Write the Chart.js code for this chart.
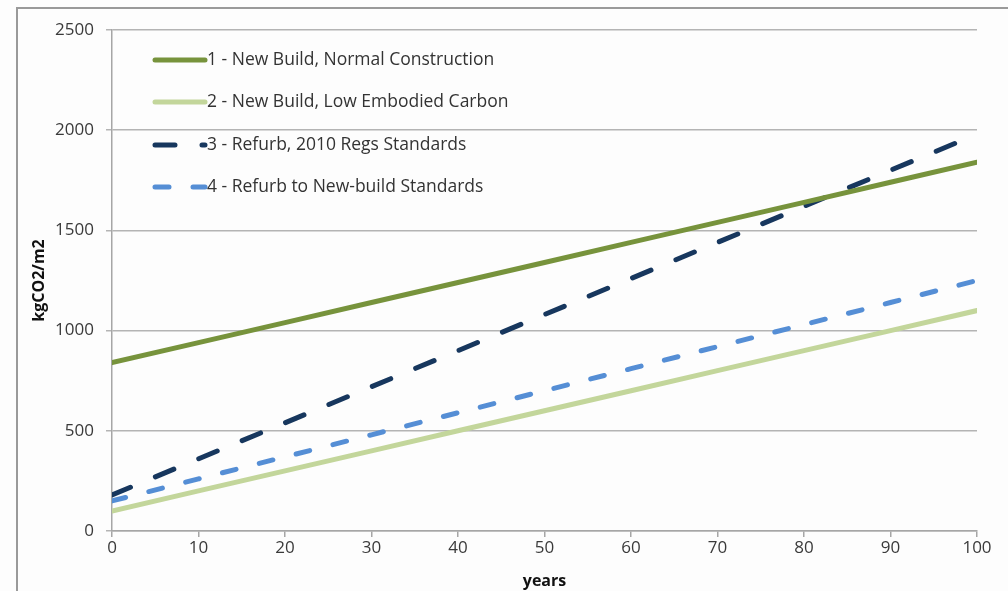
<!DOCTYPE html>
<html>
<head>
<meta charset="utf-8">
<script src="https://cdn.jsdelivr.net/npm/chart.js@4"></script>
<style>
  html, body { margin: 0; padding: 0; background: #fdfdfd; }
  #wrap { position: relative; width: 1008px; height: 591px; overflow: hidden; }
  #frame { position: absolute; left: 16px; top: 7px; width: 1100px; height: 700px;
           border-left: 2px solid #9a9a9a; border-top: 2px solid #9a9a9a; }
  canvas { position: absolute; left: 0; top: 0; }
</style>
</head>
<body>
<div id="wrap">
  <div id="frame"></div>
  <canvas id="chart" width="1008" height="591"></canvas>
</div>
<script>
// years along the x axis
const years = [0, 10, 20, 30, 40, 50, 60, 70, 80, 90, 100];

// kgCO2/m2
const newBuildNormal = [840, 940, 1040, 1140, 1240, 1340, 1440, 1540, 1640, 1740, 1840];
const newBuildLowCarbon = [100, 200, 300, 400, 500, 600, 700, 800, 900, 1000, 1100];
const refurb2010 = [180, 360, 540, 720, 900, 1080, 1260, 1440, 1620, 1800, 1980];
const refurbNewBuild = [150, 260, 370, 480, 590, 700, 810, 920, 1030, 1140, 1250];

const seriesNames = [
    '1 - New Build, Normal Construction',
    '2 - New Build, Low Embodied Carbon',
    '3 - Refurb, 2010 Regs Standards',
    '4 - Refurb to New-build Standards'
];

const fontFamily = '"Open Sans", Lato, sans-serif';

function toPoints(values) {
    return values.map((v, i) => ({ x: years[i], y: v }));
}

// legend drawn inside the plot, top left
const insideLegend = {
    id: 'insideLegend',
    afterDatasetsDraw(chart) {
        const ctx = chart.ctx;
        const rows = [60, 102, 145, 187];
        ctx.save();
        chart.data.datasets.forEach((ds, i) => {
            const y = rows[i];
            ctx.beginPath();
            ctx.strokeStyle = ds.borderColor;
            ctx.lineWidth = ds.borderWidth;
            ctx.lineCap = 'round';
            ctx.setLineDash(ds.borderDash || []);
            ctx.moveTo(155, y);
            ctx.lineTo(205, y);
            ctx.stroke();
            ctx.setLineDash([]);
            ctx.fillStyle = '#333';
            ctx.font = '17.5px ' + fontFamily;
            ctx.textBaseline = 'middle';
            ctx.fillText(ds.label, 207, y);
        });
        ctx.restore();
    }
};

new Chart(document.getElementById('chart'), {
    type: 'line',
    data: {
        datasets: [
            {
                label: seriesNames[0],
                data: toPoints(newBuildNormal),
                borderColor: '#77933c',
                borderWidth: 5
            },
            {
                label: seriesNames[1],
                data: toPoints(newBuildLowCarbon),
                borderColor: '#c3d69b',
                borderWidth: 5
            },
            {
                label: seriesNames[2],
                data: toPoints(refurb2010),
                borderColor: '#17375e',
                borderWidth: 5,
                borderDash: [20, 27]
            },
            {
                label: seriesNames[3],
                data: toPoints(refurbNewBuild),
                borderColor: '#558ed5',
                borderWidth: 5,
                borderDash: [14, 24]
            }
        ]
    },
    options: {
        responsive: false,
        animation: false,
        layout: { padding: { left: 17, top: 30, right: 31, bottom: 0 } },
        elements: {
            point: { radius: 0 },
            line: { tension: 0, borderCapStyle: 'round', borderJoinStyle: 'round' }
        },
        plugins: {
            legend: { display: false },
            tooltip: { enabled: false }
        },
        scales: {
            x: {
                type: 'linear',
                min: 0,
                max: 100,
                ticks: { stepSize: 10, color: '#3a3a3a', font: { family: fontFamily, size: 17 }, padding: 1 },
                grid: { drawOnChartArea: false, drawTicks: true, tickLength: 6, color: '#a6a6a6', lineWidth: 1.5 },
                border: { color: '#a6a6a6', width: 1.5 },
                title: { display: true, text: 'years', color: '#111', font: { family: fontFamily, size: 16, weight: 'bold' }, padding: { top: 0, bottom: 0 } },
                afterFit(scale) { scale.height = 60; }
            },
            y: {
                min: 0,
                max: 2500,
                ticks: { stepSize: 500, color: '#3a3a3a', font: { family: fontFamily, size: 17 }, padding: 12,
                         callback: v => String(v) },
                grid: { drawTicks: true, tickLength: 6, color: '#b4b4b4', lineWidth: 1.5 },
                border: { color: '#a6a6a6', width: 1.5 },
                title: { display: true, text: 'kgCO2/m2', color: '#111', font: { family: fontFamily, size: 16, weight: 'bold' }, padding: { top: 13, bottom: 0 } },
                afterFit(scale) { scale.width = 95; }
            }
        }
    },
    plugins: [insideLegend]
});
</script>
</body>
</html>
